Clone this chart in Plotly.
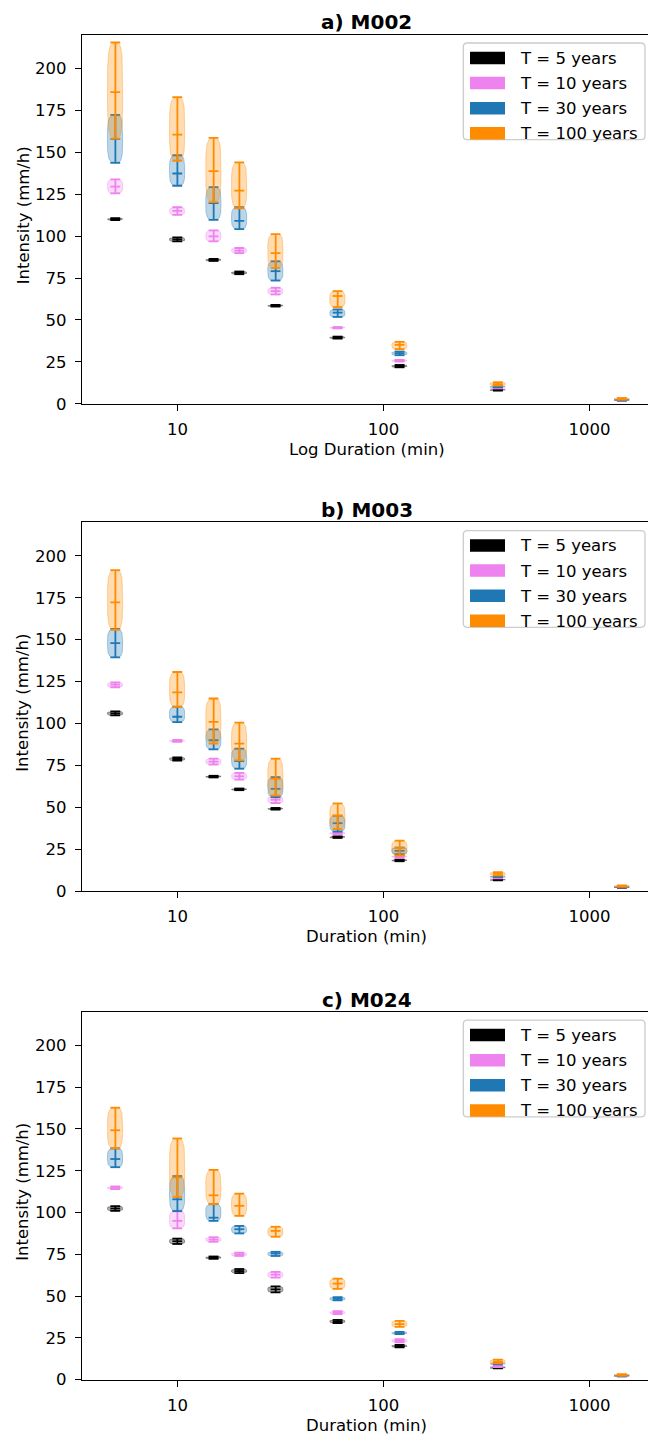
import numpy as np
import plotly.graph_objects as go

W, H = 648, 1443

DURATIONS = [5, 10, 15, 20, 30, 60, 120, 360, 1440]
RETURN_PERIODS = ["T = 5 years", "T = 10 years", "T = 30 years", "T = 100 years"]
COLORS = ["#000000", "#ee82ee", "#1f77b4", "#ff8c00"]
STATIONS = ["a) M002", "b) M003", "c) M024"]
X_LABELS = ["Log Duration (min)", "Duration (min)", "Duration (min)"]
X_TICKS = [10, 100, 1000]
Y_TICKS = [0, 25, 50, 75, 100, 125, 150, 175, 200]

# ---- a) M002 : min / median / max per duration ----
M002_T5_MIN = [109.5, 96.8, 85.2, 77.3, 58.0, 38.9, 21.8, 7.9, 2.0]
M002_T5_MED = [110.1, 98.0, 85.8, 78.1, 58.5, 39.5, 22.5, 8.3, 2.2]
M002_T5_MAX = [110.7, 99.2, 86.4, 78.9, 59.0, 40.1, 23.2, 8.7, 2.4]
M002_T10_MIN = [125.5, 112.6, 96.8, 89.9, 65.2, 45.0, 25.2, 9.2, 2.3]
M002_T10_MED = [129.5, 115.0, 99.8, 91.3, 67.2, 45.4, 25.7, 9.5, 2.5]
M002_T10_MAX = [133.8, 117.2, 103.4, 92.9, 69.2, 45.8, 26.2, 9.8, 2.7]
M002_T30_MIN = [143.7, 130.0, 109.7, 104.2, 73.5, 51.8, 29.0, 9.9, 2.5]
M002_T30_MED = [158.0, 137.3, 119.6, 109.1, 79.1, 54.4, 30.2, 10.3, 2.7]
M002_T30_MAX = [172.3, 148.2, 129.2, 117.2, 85.0, 56.3, 31.2, 10.8, 2.9]
M002_T100_MIN = [158.1, 144.9, 120.2, 116.6, 81.0, 57.7, 32.6, 10.9, 2.6]
M002_T100_MED = [185.8, 160.5, 138.7, 127.1, 89.9, 64.3, 35.2, 11.8, 3.0]
M002_T100_MAX = [215.4, 182.8, 158.5, 143.9, 101.2, 67.2, 37.0, 12.9, 3.5]

# ---- b) M003 ----
M003_T5_MIN = [104.8, 77.8, 67.8, 60.2, 48.6, 31.7, 17.8, 6.4, 2.0]
M003_T5_MED = [106.0, 78.8, 68.3, 60.7, 49.1, 32.2, 18.3, 6.7, 2.2]
M003_T5_MAX = [107.2, 79.8, 68.8, 61.2, 49.6, 32.7, 18.8, 7.0, 2.4]
M003_T10_MIN = [121.6, 89.0, 75.5, 66.5, 52.5, 33.8, 20.0, 7.6, 2.2]
M003_T10_MED = [123.2, 89.6, 77.2, 68.5, 54.5, 34.5, 20.6, 7.9, 2.4]
M003_T10_MAX = [124.5, 90.2, 79.0, 70.5, 56.5, 35.2, 21.2, 8.2, 2.6]
M003_T30_MIN = [139.4, 100.8, 84.5, 73.0, 56.0, 35.5, 22.0, 8.4, 2.4]
M003_T30_MED = [147.9, 104.0, 90.0, 77.5, 61.0, 40.5, 24.0, 8.7, 2.6]
M003_T30_MAX = [156.4, 110.0, 96.5, 85.0, 68.0, 45.0, 26.0, 9.0, 2.8]
M003_T100_MIN = [155.9, 109.9, 88.0, 78.0, 57.0, 37.0, 21.2, 9.3, 2.6]
M003_T100_MED = [172.3, 118.6, 101.0, 88.0, 67.0, 45.0, 25.7, 10.3, 3.0]
M003_T100_MAX = [191.5, 130.7, 114.9, 100.5, 79.0, 52.3, 30.1, 11.3, 3.4]

# ---- c) M024 ----
M024_T5_MIN = [101.0, 81.2, 72.3, 63.8, 52.2, 33.9, 19.4, 6.7, 2.0]
M024_T5_MED = [102.4, 82.8, 73.0, 65.0, 54.0, 34.8, 20.1, 7.1, 2.2]
M024_T5_MAX = [103.8, 84.4, 73.7, 66.2, 55.8, 35.8, 20.8, 7.5, 2.4]
M024_T10_MIN = [114.0, 90.5, 82.5, 74.0, 61.0, 39.2, 22.4, 7.5, 2.2]
M024_T10_MED = [114.8, 95.0, 83.8, 75.0, 62.8, 40.1, 23.3, 7.9, 2.4]
M024_T10_MAX = [115.6, 101.0, 85.2, 76.0, 64.5, 41.0, 24.2, 8.3, 2.6]
M024_T30_MIN = [127.1, 100.8, 95.0, 87.5, 74.0, 47.4, 27.2, 9.1, 2.4]
M024_T30_MED = [132.0, 107.9, 96.9, 90.0, 75.5, 48.4, 27.9, 9.5, 2.6]
M024_T30_MAX = [138.4, 121.8, 105.0, 92.0, 76.5, 49.4, 28.6, 9.9, 2.8]
M024_T100_MIN = [138.4, 109.3, 105.0, 98.0, 85.5, 54.3, 31.6, 9.7, 2.5]
M024_T100_MED = [149.2, 121.0, 110.3, 104.0, 89.0, 57.5, 33.2, 10.8, 2.9]
M024_T100_MAX = [162.7, 144.3, 125.5, 111.3, 91.5, 60.5, 35.2, 12.0, 3.3]

PANELS = [
    [(M002_T5_MIN, M002_T5_MED, M002_T5_MAX), (M002_T10_MIN, M002_T10_MED, M002_T10_MAX),
     (M002_T30_MIN, M002_T30_MED, M002_T30_MAX), (M002_T100_MIN, M002_T100_MED, M002_T100_MAX)],
    [(M003_T5_MIN, M003_T5_MED, M003_T5_MAX), (M003_T10_MIN, M003_T10_MED, M003_T10_MAX),
     (M003_T30_MIN, M003_T30_MED, M003_T30_MAX), (M003_T100_MIN, M003_T100_MED, M003_T100_MAX)],
    [(M024_T5_MIN, M024_T5_MED, M024_T5_MAX), (M024_T10_MIN, M024_T10_MED, M024_T10_MAX),
     (M024_T30_MIN, M024_T30_MED, M024_T30_MAX), (M024_T100_MIN, M024_T100_MED, M024_T100_MAX)],
]

# ---- layout geometry (pixels) ----
AX_LEFT, AX_RIGHT = 82, 648
PANEL_TOP = [35, 526, 1019]
PANEL_BOT = [406.7, 897.3, 1389.3]
X_RANGE = [0.5369, 3.2845]   # log10 range
Y_RANGE = [0, 220]
BODY_HW = 0.085   # relative half width of violin body
CAP_HW = 0.055    # relative half width of extrema/median lines
FONT = "DejaVu Sans"


def px(x):
    return x / W


def py(y):
    return 1 - y / H


def rgba(hexc, a):
    h = hexc.lstrip("#")
    r, g, b = int(h[0:2], 16), int(h[2:4], 16), int(h[4:6], 16)
    return f"rgba({r},{g},{b},{a})"


fig = go.Figure()
shapes = []
annotations = []

t = np.linspace(0, 1, 41)
p = 3.5
prof = (1 - np.abs(2 * t - 1) ** p) ** (1 / p)

for i, panel in enumerate(PANELS):
    xa = "x" if i == 0 else f"x{i+1}"
    ya = "y" if i == 0 else f"y{i+1}"
    for (mins, meds, maxs), color, name in zip(panel, COLORS, RETURN_PERIODS):
        bx, by = [], []
        for d, lo, hi in zip(DURATIONS, mins, maxs):
            yv = lo + t * (hi - lo)
            xr = d * (1 + BODY_HW * prof)
            xl = d * (1 - BODY_HW * prof)
            bx += list(xr) + list(xl[::-1]) + [None]
            by += list(yv) + list(yv[::-1]) + [None]
        fig.add_trace(go.Scatter(
            x=bx, y=by, xaxis=xa, yaxis=ya, mode="lines", fill="toself",
            fillcolor=rgba(color, 0.3), line=dict(color=rgba(color, 0.35), width=1),
            hoverinfo="skip", showlegend=False, name=name))
        lx, ly = [], []
        for d, lo, md, hi in zip(DURATIONS, mins, meds, maxs):
            lx += [d, d, None]
            ly += [lo, hi, None]
            for v in (lo, md, hi):
                lx += [d * (1 - CAP_HW), d * (1 + CAP_HW), None]
                ly += [v, v, None]
        fig.add_trace(go.Scatter(
            x=lx, y=ly, xaxis=xa, yaxis=ya, mode="lines",
            line=dict(color=color, width=1.8), hoverinfo="skip",
            showlegend=False, name=name))

    top, bot = PANEL_TOP[i], PANEL_BOT[i]
    sfx = "" if i == 0 else str(i + 1)
    fig.layout["xaxis" + sfx] = dict(
        type="log", range=X_RANGE, domain=[px(AX_LEFT), px(AX_RIGHT)],
        anchor=ya, tickvals=X_TICKS, ticktext=[str(v) for v in X_TICKS],
        ticks="outside", ticklen=6, tickwidth=1.3, tickcolor="black",
        showline=True, linecolor="black", linewidth=1.3, mirror=True,
        showgrid=False, zeroline=False, ticklabelstandoff=4,
        tickfont=dict(family=FONT, size=16.5, color="black"))
    fig.layout["yaxis" + sfx] = dict(
        range=Y_RANGE, domain=[py(bot), py(top)], anchor=xa,
        tickvals=Y_TICKS, ticks="outside", ticklen=6, tickwidth=1.3,
        tickcolor="black", showline=True, linecolor="black", linewidth=1.3,
        showgrid=False, zeroline=False, ticklabelstandoff=5,
        tickfont=dict(family=FONT, size=16.5, color="black"))

    cx = (AX_LEFT + 651) / 2
    annotations.append(dict(
        text=f"<b>{STATIONS[i]}</b>", x=px(cx), y=py(top - 12.5), xref="paper", yref="paper",
        showarrow=False, xanchor="center", yanchor="middle",
        font=dict(family=FONT, size=20, color="black")))
    annotations.append(dict(
        text=X_LABELS[i], x=px(cx), y=py(bot + 46), xref="paper", yref="paper",
        showarrow=False, xanchor="center", yanchor="middle",
        font=dict(family=FONT, size=16.5, color="black")))
    annotations.append(dict(
        text="Intensity (mm/h)", x=px(23), y=py((top + bot) / 2 - 4), xref="paper",
        yref="paper", showarrow=False, xanchor="center", yanchor="middle", textangle=-90,
        font=dict(family=FONT, size=16.5, color="black")))

    l, r, tp, bt, rad = 463.3, 645, top + 8.3, top + 105.7, 4
    path = (f"M {px(l+rad)},{py(tp)} L {px(r-rad)},{py(tp)} Q {px(r)},{py(tp)} {px(r)},{py(tp+rad)} "
            f"L {px(r)},{py(bt-rad)} Q {px(r)},{py(bt)} {px(r-rad)},{py(bt)} "
            f"L {px(l+rad)},{py(bt)} Q {px(l)},{py(bt)} {px(l)},{py(bt-rad)} "
            f"L {px(l)},{py(tp+rad)} Q {px(l)},{py(tp)} {px(l+rad)},{py(tp)} Z")
    shapes.append(dict(type="path", path=path, xref="paper", yref="paper",
                       fillcolor="rgba(255,255,255,0.8)", line=dict(color="#cccccc", width=1.3)))
    for k, (name, color) in enumerate(zip(RETURN_PERIODS, COLORS)):
        yc = top + 23.3 + 25.3 * k
        shapes.append(dict(type="rect", xref="paper", yref="paper",
                           x0=px(470), x1=px(505), y0=py(yc - 6.3), y1=py(yc + 6.3),
                           fillcolor=color, line=dict(width=0)))
        annotations.append(dict(
            text=name, x=px(518), y=py(yc + 0.5), xref="paper", yref="paper",
            showarrow=False, xanchor="left", yanchor="middle",
            font=dict(family=FONT, size=16.5, color="black")))

fig.update_layout(
    width=W, height=H, margin=dict(l=0, r=0, t=0, b=0),
    paper_bgcolor="white", plot_bgcolor="white", showlegend=False,
    shapes=shapes, annotations=annotations)

fig.write_html("out.html")
